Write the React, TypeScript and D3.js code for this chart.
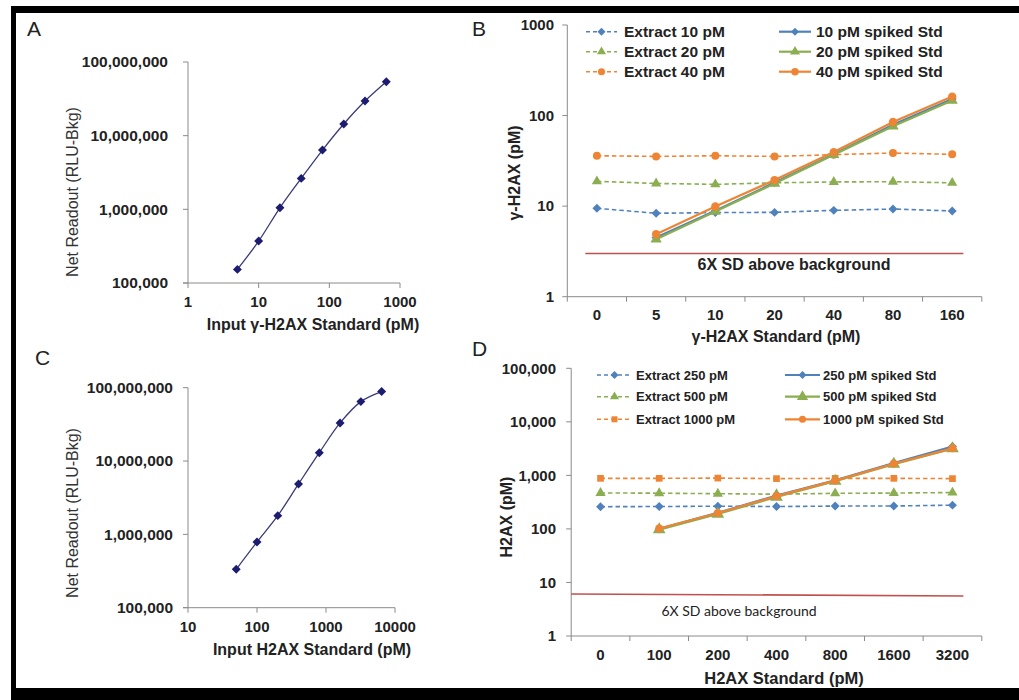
import React from "react";
import * as d3 from "d3";

const FONT = "Arial, 'Liberation Sans', Helvetica, sans-serif";

// ---------- Panel A: gamma-H2AX standard curve ----------
const aInput = [5, 10, 20, 40, 80, 160, 320, 640];
const aReadout = [153000, 371000, 1050000, 2630000, 6380000, 14400000, 29500000, 53900000];
const aXTicks = [1, 10, 100, 1000];
const aYTicks = [1e5, 1e6, 1e7, 1e8];

// ---------- Panel C: H2AX standard curve ----------
const cInput = [50, 100, 200, 400, 800, 1600, 3200, 6400];
const cReadout = [334000, 788000, 1800000, 4870000, 13000000, 33100000, 64600000, 88500000];
const cXTicks = [10, 100, 1000, 10000];
const cYTicks = [1e5, 1e6, 1e7, 1e8];

// ---------- Panel B: gamma-H2AX spike recovery ----------
const bCategories = ["0", "5", "10", "20", "40", "80", "160"];
const bExtract10 = [9.46, 8.34, 8.5, 8.53, 8.98, 9.29, 8.83];
const bExtract20 = [18.8, 17.8, 17.4, 18.1, 18.5, 18.6, 18.1];
const bExtract40 = [36.0, 35.4, 36.0, 35.4, 37.0, 38.6, 37.3];
const bSpiked10 = [null, 4.5, 8.9, 18.2, 37.5, 79, 152];
const bSpiked20 = [null, 4.3, 8.7, 17.8, 37, 76, 147];
const bSpiked40 = [null, 4.9, 9.9, 19.4, 39.5, 85, 162];
const bThreshold = [3.0, 3.0];
const bYTicks = [1, 10, 100, 1000];

// ---------- Panel D: H2AX spike recovery ----------
const dCategories = ["0", "100", "200", "400", "800", "1600", "3200"];
const dExtract250 = [260, 262, 266, 262, 267, 268, 278];
const dExtract500 = [470, 465, 455, 445, 462, 468, 478];
const dExtract1000 = [880, 880, 890, 870, 880, 880, 870];
const dSpiked250 = [null, 100, 200, 420, 810, 1700, 3450];
const dSpiked500 = [null, 97, 190, 395, 780, 1620, 3150];
const dSpiked1000 = [null, 102, 198, 410, 800, 1650, 3200];
const dThreshold = [6.1, 5.6];
const dYTicks = [1, 10, 100, 1000, 10000, 100000];

const BLUE = "#4F81BD";
const GREEN = "#8AAE50";
const ORANGE = "#EE8535";
const AXIS = "#8a8a8a";
const NAVY = "#1c1c70";

// equal-sided diamond (square rotated 45 degrees)
const squareDiamond: d3.SymbolType = {
  draw(context: any, size: number) {
    const r = Math.sqrt(size / 2);
    context.moveTo(0, -r);
    context.lineTo(r, 0);
    context.lineTo(0, r);
    context.lineTo(-r, 0);
    context.closePath();
  },
};

type Series = {
  name: string;
  values: (number | null)[];
  color: string;
  dashed: boolean;
  shape: d3.SymbolType;
  size: number;
};

function StdCurve(props: {
  left: number; right: number; top: number; bottom: number;
  xDomain: [number, number]; xTicks: number[]; yTicks: number[];
  xs: number[]; ys: number[];
  yLabelEnd: number; xLabelBase: number;
  xTitle: string; xTitlePos: [number, number];
  yTitlePos: [number, number];
  label: string; labelPos: [number, number];
}) {
  const p = props;
  const x = d3.scaleLog().domain(p.xDomain).range([p.left, p.right]);
  const y = d3.scaleLog().domain([1e5, 1e8]).range([p.bottom, p.top]);
  const pts: [number, number][] = p.xs.map((v, i) => [x(v), y(p.ys[i])]);
  const line = d3.line().curve(d3.curveCatmullRom.alpha(0.5))(pts) || "";
  const sym = d3.symbol().type(squareDiamond).size(40)() || "";
  const fmt = d3.format(",");
  return (
    <g fontFamily={FONT}>
      <text x={p.labelPos[0]} y={p.labelPos[1]} fontSize={21} fill="#222">{p.label}</text>
      <line x1={p.left} x2={p.left} y1={p.top} y2={p.bottom} stroke={AXIS} strokeWidth={1} />
      <line x1={p.left - 5} x2={p.right} y1={p.bottom} y2={p.bottom} stroke={AXIS} strokeWidth={1} />
      {p.yTicks.map((t) => (
        <g key={"y" + t}>
          <line x1={p.left - 5} x2={p.left} y1={y(t)} y2={y(t)} stroke={AXIS} />
          <text x={p.yLabelEnd} y={y(t)} dy="0.35em" textAnchor="end" fontSize={15.5} fontWeight="bold" fill="#222">{fmt(t)}</text>
        </g>
      ))}
      {p.xTicks.map((t) => (
        <g key={"x" + t}>
          <line x1={x(t)} x2={x(t)} y1={p.bottom} y2={p.bottom + 5} stroke={AXIS} />
          <text x={x(t)} y={p.xLabelBase} textAnchor="middle" fontSize={15} fontWeight="bold" fill="#222">{String(t)}</text>
        </g>
      ))}
      <text x={p.xTitlePos[0]} y={p.xTitlePos[1]} textAnchor="middle" fontSize={16} fontWeight="bold" fill="#222">{p.xTitle}</text>
      <text transform={`translate(${p.yTitlePos[0]},${p.yTitlePos[1]}) rotate(-90)`} textAnchor="middle" dy="0.35em" fontSize={16} fill="#333">Net Readout (RLU-Bkg)</text>
      <path d={line} fill="none" stroke="#3a3a78" strokeWidth={1.3} />
      {pts.map((pt, i) => (
        <path key={i} d={sym} transform={`translate(${pt[0]},${pt[1]})`} fill={NAVY} />
      ))}
    </g>
  );
}

function Recovery(props: {
  left: number; right: number; top: number; bottom: number;
  categories: string[]; yDomain: [number, number]; yTicks: number[];
  series: Series[]; threshold: number[]; thrX: [number, number];
  yLabelEnd: number; xLabelBase: number; tickFont: number; yFmt: (n: number) => string;
  xTitle: string; xTitlePos: [number, number]; xTitleFont: number;
  yTitle: string; yTitlePos: [number, number]; yTitleFont: number;
  label: string; labelPos: [number, number];
  legendRows: number[]; legendCols: { l0: number; l1: number; t: number }[]; legendFont: number;
  sdText: { x: number; y: number; size: number; bold: boolean; family: string };
}) {
  const p = props;
  const x = d3.scaleBand().domain(p.categories).range([p.left, p.right]).padding(0);
  const y = d3.scaleLog().domain(p.yDomain).range([p.bottom, p.top]);
  const bw = x.bandwidth();
  const cx = (c: string) => (x(c) as number) + bw / 2;
  const boundaries = p.categories.map((c) => x(c) as number).concat([p.right]);
  const lineGen = d3
    .line<[string, number | null]>()
    .defined((d) => d[1] != null)
    .x((d) => cx(d[0]))
    .y((d) => y(d[1] as number));
  const thrScale = d3.scaleLinear().domain([0, 1]).range(p.thrX);
  return (
    <g fontFamily={FONT}>
      <text x={p.labelPos[0]} y={p.labelPos[1]} fontSize={21} fill="#222">{p.label}</text>
      <line x1={p.left} x2={p.left} y1={p.top} y2={p.bottom} stroke={AXIS} />
      <line x1={p.left} x2={p.right} y1={p.bottom} y2={p.bottom} stroke={AXIS} />
      {p.yTicks.map((t) => (
        <g key={"y" + t}>
          <line x1={p.left - 5} x2={p.left} y1={y(t)} y2={y(t)} stroke={AXIS} />
          <text x={p.yLabelEnd} y={y(t)} dy="0.35em" textAnchor="end" fontSize={p.tickFont} fontWeight="bold" fill="#222">{p.yFmt(t)}</text>
        </g>
      ))}
      {boundaries.map((b, i) => (
        <line key={"b" + i} x1={b} x2={b} y1={p.bottom} y2={p.bottom + 5} stroke={AXIS} />
      ))}
      {p.categories.map((c) => (
        <text key={"c" + c} x={cx(c)} y={p.xLabelBase} textAnchor="middle" fontSize={p.tickFont} fontWeight="bold" fill="#222">{c}</text>
      ))}
      <text x={p.xTitlePos[0]} y={p.xTitlePos[1]} textAnchor="middle" fontSize={p.xTitleFont} fontWeight="bold" fill="#222">{p.xTitle}</text>
      <text transform={`translate(${p.yTitlePos[0]},${p.yTitlePos[1]}) rotate(-90)`} textAnchor="middle" dy="0.35em" fontSize={p.yTitleFont} fontWeight="bold" fill="#222">{p.yTitle}</text>
      <line x1={thrScale(0)} x2={thrScale(1)} y1={y(p.threshold[0])} y2={y(p.threshold[1])} stroke="#C0504D" strokeWidth={1.6} />
      <text x={p.sdText.x} y={p.sdText.y} textAnchor="middle" fontSize={p.sdText.size} fontWeight={p.sdText.bold ? "bold" : "normal"} fontFamily={p.sdText.family} fill="#222">6X SD above background</text>
      {p.series.map((s, si) => {
        const data: [string, number | null][] = p.categories.map((c, i) => [c, s.values[i]]);
        const sym = d3.symbol().type(s.shape).size(s.size)() || "";
        return (
          <g key={"s" + si}>
            <path d={lineGen(data) || ""} fill="none" stroke={s.color} strokeWidth={s.dashed ? 1.6 : 2.2} strokeDasharray={s.dashed ? "4.5 3" : undefined} />
            {data.filter((d) => d[1] != null).map((d, i) => (
              <path key={i} d={sym} transform={`translate(${cx(d[0])},${y(d[1] as number)})`} fill={s.color} />
            ))}
          </g>
        );
      })}
      {p.series.map((s, si) => {
        const col = p.legendCols[Math.floor(si / 3)];
        const row = p.legendRows[si % 3];
        const sym = d3.symbol().type(s.shape).size(s.size * 0.8)() || "";
        return (
          <g key={"l" + si}>
            <line x1={col.l0} x2={col.l1} y1={row} y2={row} stroke={s.color} strokeWidth={s.dashed ? 1.6 : 2.2} strokeDasharray={s.dashed ? "4 3" : undefined} />
            <path d={sym} transform={`translate(${(col.l0 + col.l1) / 2},${row})`} fill={s.color} />
            <text x={col.t} y={row} dy="0.35em" fontSize={p.legendFont} fontWeight="bold" fill="#222">{s.name}</text>
          </g>
        );
      })}
    </g>
  );
}

export default function App() {
  const bSeries: Series[] = [
    { name: "Extract 10 pM", values: bExtract10, color: BLUE, dashed: true, shape: squareDiamond, size: 40 },
    { name: "Extract 20 pM", values: bExtract20, color: GREEN, dashed: true, shape: d3.symbolTriangle, size: 45 },
    { name: "Extract 40 pM", values: bExtract40, color: ORANGE, dashed: true, shape: d3.symbolCircle, size: 50 },
    { name: "10 pM spiked Std", values: bSpiked10, color: BLUE, dashed: false, shape: squareDiamond, size: 40 },
    { name: "20 pM spiked Std", values: bSpiked20, color: GREEN, dashed: false, shape: d3.symbolTriangle, size: 55 },
    { name: "40 pM spiked Std", values: bSpiked40, color: ORANGE, dashed: false, shape: d3.symbolCircle, size: 55 },
  ];
  const dSeries: Series[] = [
    { name: "Extract 250 pM", values: dExtract250, color: BLUE, dashed: true, shape: squareDiamond, size: 40 },
    { name: "Extract 500 pM", values: dExtract500, color: GREEN, dashed: true, shape: d3.symbolTriangle, size: 45 },
    { name: "Extract 1000 pM", values: dExtract1000, color: ORANGE, dashed: true, shape: d3.symbolSquare, size: 45 },
    { name: "250 pM spiked Std", values: dSpiked250, color: BLUE, dashed: false, shape: squareDiamond, size: 40 },
    { name: "500 pM spiked Std", values: dSpiked500, color: GREEN, dashed: false, shape: d3.symbolTriangle, size: 70 },
    { name: "1000 pM spiked Std", values: dSpiked1000, color: ORANGE, dashed: false, shape: d3.symbolCircle, size: 50 },
  ];
  const commaFmt = d3.format(",");
  return (
    <svg width={1019} height={700} style={{ position: "absolute", left: 0, top: 0, background: "#fff" }}>
      <rect x={0} y={0} width={1019} height={700} fill="#fff" />
      {/* frame */}
      <rect x={11} y={6} width={1008} height={7} fill="#000" />
      <rect x={11} y={6} width={5} height={694} fill="#000" />
      <rect x={11} y={688} width={1008} height={12} fill="#000" />

      <StdCurve
        left={188} right={400} top={62} bottom={283}
        xDomain={[1, 1000]} xTicks={aXTicks} yTicks={aYTicks}
        xs={aInput} ys={aReadout}
        yLabelEnd={168} xLabelBase={307}
        xTitle="Input γ-H2AX Standard (pM)" xTitlePos={[313, 330]}
        yTitlePos={[72, 192]}
        label="A" labelPos={[27, 36]}
      />
      <StdCurve
        left={188} right={395} top={387.7} bottom={607.7}
        xDomain={[10, 10000]} xTicks={cXTicks} yTicks={cYTicks}
        xs={cInput} ys={cReadout}
        yLabelEnd={173} xLabelBase={632}
        xTitle="Input H2AX Standard (pM)" xTitlePos={[312, 655]}
        yTitlePos={[72, 513]}
        label="C" labelPos={[35, 365]}
      />
      <Recovery
        left={567.3} right={981.8} top={25} bottom={296.7}
        categories={bCategories} yDomain={[1, 1000]} yTicks={bYTicks}
        series={bSeries} threshold={bThreshold} thrX={[585.3, 963.4]}
        yLabelEnd={554} xLabelBase={320} tickFont={15} yFmt={(n) => String(n)}
        xTitle="γ-H2AX Standard (pM)" xTitlePos={[776, 342]} xTitleFont={16}
        yTitle="γ-H2AX (pM)" yTitlePos={[514, 173]} yTitleFont={16}
        label="B" labelPos={[472, 36]}
        legendRows={[31.7, 51.7, 71.7]}
        legendCols={[{ l0: 586, l1: 617, t: 624 }, { l0: 779, l1: 811, t: 816 }]}
        legendFont={15.5}
        sdText={{ x: 794, y: 270, size: 16, bold: true, family: FONT }}
      />
      <Recovery
        left={571.2} right={981.8} top={368.3} bottom={636}
        categories={dCategories} yDomain={[1, 100000]} yTicks={dYTicks}
        series={dSeries} threshold={dThreshold} thrX={[571.2, 963.4]}
        yLabelEnd={556} xLabelBase={660} tickFont={15} yFmt={(n) => commaFmt(n)}
        xTitle="H2AX Standard (pM)" xTitlePos={[784, 684]} xTitleFont={16.5}
        yTitle="H2AX (pM)" yTitlePos={[506, 517]} yTitleFont={16}
        label="D" labelPos={[472, 356]}
        legendRows={[375, 396.7, 419.3]}
        legendCols={[{ l0: 597, l1: 632, t: 636 }, { l0: 785, l1: 820, t: 823 }]}
        legendFont={13}
        sdText={{ x: 739, y: 616, size: 14, bold: false, family: "Lato, 'Open Sans', sans-serif" }}
      />
    </svg>
  );
}
